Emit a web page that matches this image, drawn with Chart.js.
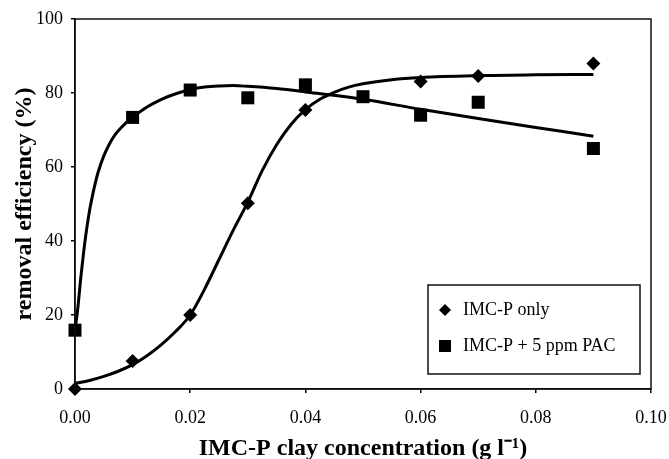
<!DOCTYPE html>
<html>
<head>
<meta charset="utf-8">
<script src="https://cdn.jsdelivr.net/npm/chart.js@4"></script>
<style>
  html, body { margin: 0; padding: 0; background: #fff; }
  #wrap { width: 669px; height: 459px; }
</style>
</head>
<body>
<div id="wrap"><canvas id="removal"></canvas></div>
<script>
// measured points
const onlyX = [0, 0.01, 0.02, 0.03, 0.04, 0.06, 0.07, 0.09];
const onlyY = [0, 7.6, 20, 50.2, 75.4, 83.1, 84.6, 88.0];
const pacX = [0, 0.01, 0.02, 0.03, 0.04, 0.05, 0.06, 0.07, 0.09];
const pacY = [15.9, 73.4, 80.8, 78.7, 82.2, 79.0, 74.0, 77.5, 65.0];

// fitted curves
const onlyFitX = [0, 0.0025, 0.005, 0.0075, 0.01, 0.0125, 0.015, 0.0175, 0.02, 0.0225, 0.025, 0.0275,
  0.03, 0.0325, 0.035, 0.0375, 0.04, 0.0425, 0.045, 0.0475, 0.05, 0.055, 0.06, 0.07, 0.08, 0.09];
const onlyFitY = [1.5, 2.3, 3.4, 4.8, 6.6, 9, 12, 15.6, 20, 27, 35, 43,
  50.5, 59, 66, 71.5, 75.5, 78.3, 80.2, 81.6, 82.5, 83.6, 84.2, 84.7, 84.9, 85];
const pacFitX = [0, 0.0005, 0.001, 0.0015, 0.002, 0.0025, 0.003, 0.0035, 0.004, 0.005, 0.006, 0.007,
  0.008, 0.009, 0.01, 0.0125, 0.015, 0.0175, 0.02, 0.0225, 0.025, 0.0275, 0.03, 0.035, 0.04, 0.05,
  0.06, 0.07, 0.08, 0.09];
const pacFitY = [15.9, 22, 30, 37, 43, 48, 52, 55.5, 58.5, 63, 66.3, 68.8,
  70.6, 72.1, 73.4, 76.2, 78.3, 79.8, 80.9, 81.6, 81.9, 82, 81.8, 81.2, 80.3, 78.3,
  75.6, 73.1, 70.7, 68.3];

const xTicks = [0, 0.02, 0.04, 0.06, 0.08, 0.10];
const yTicks = [0, 20, 40, 60, 80, 100];

const labels = ['IMC-P only', 'IMC-P + 5 ppm PAC'];

function pts(xs, ys) {
  return xs.map((x, i) => ({x: x, y: ys[i]}));
}

const serif = 'Liberation Serif, Times New Roman, serif';

// box round the plot area
const frame = {
  id: 'frame',
  afterDatasetsDraw(chart) {
    const a = chart.chartArea, c = chart.ctx;
    c.save();
    c.strokeStyle = '#111';
    c.lineWidth = 1.5;
    c.strokeRect(a.left, a.top, a.right - a.left, a.bottom - a.top);
    c.restore();
  }
};

// legend box inside the plot
const boxLegend = {
  id: 'boxLegend',
  afterDraw(chart) {
    const c = chart.ctx;
    c.save();
    c.strokeStyle = '#111';
    c.lineWidth = 1.5;
    c.fillStyle = '#fff';
    c.fillRect(428, 285, 212, 89);
    c.strokeRect(428, 285, 212, 89);
    c.fillStyle = '#000';
    // diamond
    c.beginPath();
    c.moveTo(445, 304); c.lineTo(451, 310); c.lineTo(445, 316); c.lineTo(439, 310);
    c.closePath(); c.fill();
    // square
    c.fillRect(439, 340, 12, 12);
    c.font = '18px ' + serif;
    c.textBaseline = 'middle';
    c.fillText(labels[0], 463, 310);
    c.fillText(labels[1], 463, 346);
    c.restore();
  }
};

const ctx = document.getElementById('removal');

new Chart(ctx, {
  type: 'scatter',
  data: {
    datasets: [
      {
        label: labels[0],
        data: pts(onlyX, onlyY),
        pointStyle: 'rectRot',
        pointRadius: 7,
        pointBackgroundColor: '#000',
        pointBorderColor: '#000',
        pointBorderWidth: 0,
        showLine: false,
        clip: false
      },
      {
        label: labels[1],
        data: pts(pacX, pacY),
        pointStyle: 'rect',
        pointRadius: 9.2,
        pointBackgroundColor: '#000',
        pointBorderColor: '#000',
        pointBorderWidth: 0,
        showLine: false,
        clip: false
      },
      {
        label: 'fit only',
        data: pts(onlyFitX, onlyFitY),
        showLine: true,
        pointRadius: 0,
        borderColor: '#000',
        borderWidth: 3,
        cubicInterpolationMode: 'monotone',
        clip: false
      },
      {
        label: 'fit pac',
        data: pts(pacFitX, pacFitY),
        showLine: true,
        pointRadius: 0,
        borderColor: '#000',
        borderWidth: 3,
        cubicInterpolationMode: 'monotone',
        clip: false
      }
    ]
  },
  options: {
    responsive: true,
    maintainAspectRatio: false,
    animation: false,
    layout: { padding: { left: 0, right: 18, top: 19, bottom: 0 } },
    plugins: {
      legend: { display: false },
      tooltip: { enabled: false }
    },
    scales: {
      x: {
        type: 'linear',
        min: 0,
        max: 0.1,
        afterFit(s) {
          s.height = 70;
          // labels may hang past the frame, like the original
          s.paddingLeft = 0;
          s.paddingRight = 0;
        },
        afterBuildTicks(s) { s.ticks = xTicks.map(v => ({value: v})); },
        ticks: {
          color: '#000',
          font: { family: serif, size: 18 },
          padding: 14,
          callback: v => v.toFixed(2)
        },
        grid: { drawOnChartArea: false, drawTicks: true, tickLength: 4, color: '#000', lineWidth: 1.5 },
        border: { display: true, color: '#000', width: 1.5 },
        title: {
          display: true,
          text: 'IMC-P clay concentration (g l\u207B\u00B9)',
          color: '#000',
          font: { family: serif, size: 24, weight: 'bold', lineHeight: 0.85 },
          padding: { top: 0, bottom: 0 }
        }
      },
      y: {
        type: 'linear',
        min: 0,
        max: 100,
        afterFit(s) { s.width = 75; },
        afterBuildTicks(s) { s.ticks = yTicks.map(v => ({value: v})); },
        ticks: {
          color: '#000',
          font: { family: serif, size: 18 },
          padding: 8
        },
        grid: { drawOnChartArea: false, drawTicks: true, tickLength: 4, color: '#000', lineWidth: 1.5 },
        border: { display: true, color: '#000', width: 1.5 },
        title: {
          display: true,
          text: 'removal efficiency (%)',
          color: '#000',
          font: { family: serif, size: 24, weight: 'bold', lineHeight: 1 },
          padding: { top: 13, bottom: 0 }
        }
      }
    }
  },
  plugins: [frame, boxLegend]
});
</script>
</body>
</html>
